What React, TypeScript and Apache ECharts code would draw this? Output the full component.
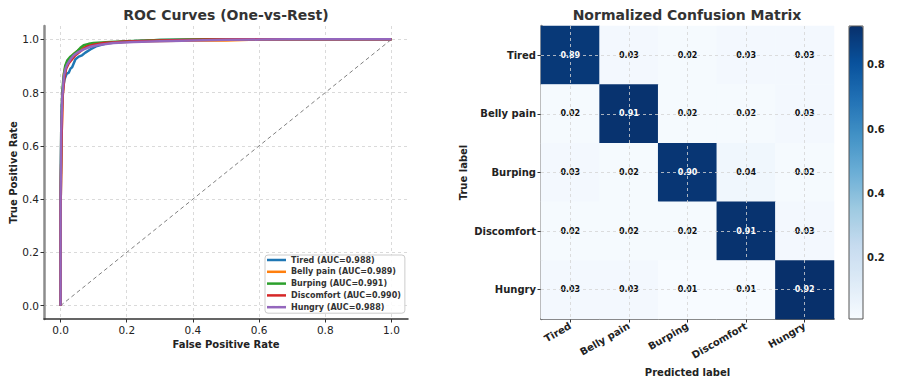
import React, { useEffect, useRef } from "react";
import * as echarts from "echarts";

// ROC curve points [fpr, tpr]
const rocTired: number[][] = [
  [0, 0], [0, 0.3], [0.002, 0.6], [0.004, 0.75], [0.008, 0.82], [0.012, 0.85], [0.018, 0.87],
  [0.025, 0.875], [0.03, 0.89], [0.035, 0.895], [0.04, 0.91], [0.045, 0.925], [0.055, 0.935],
  [0.065, 0.94], [0.075, 0.95], [0.09, 0.962], [0.11, 0.975], [0.14, 0.985], [0.2, 0.992],
  [0.3, 0.997], [0.45, 0.999], [0.6, 1.0], [1, 1],
];
const rocBelly: number[][] = [
  [0, 0], [0, 0.35], [0.003, 0.62], [0.006, 0.78], [0.01, 0.87], [0.015, 0.9], [0.02, 0.915],
  [0.03, 0.93], [0.04, 0.945], [0.055, 0.96], [0.075, 0.972], [0.1, 0.98], [0.15, 0.988],
  [0.25, 0.993], [0.35, 0.995], [0.5, 0.996], [0.57, 0.998], [0.7, 1.0], [1, 1],
];
const rocBurping: number[][] = [
  [0, 0], [0, 0.4], [0.002, 0.65], [0.005, 0.8], [0.009, 0.86], [0.014, 0.9], [0.02, 0.92],
  [0.03, 0.935], [0.04, 0.945], [0.05, 0.955], [0.06, 0.968], [0.07, 0.978], [0.085, 0.983],
  [0.1, 0.986], [0.15, 0.99], [0.2, 0.993], [0.3, 0.997], [0.38, 0.999], [0.45, 1.0], [1, 1],
];
const rocDiscomfort: number[][] = [
  [0, 0], [0, 0.35], [0.003, 0.62], [0.006, 0.78], [0.011, 0.85], [0.017, 0.89], [0.025, 0.91],
  [0.035, 0.925], [0.045, 0.94], [0.06, 0.955], [0.07, 0.965], [0.08, 0.973], [0.1, 0.98],
  [0.13, 0.986], [0.2, 0.992], [0.3, 0.996], [0.45, 0.999], [0.55, 1.0], [1, 1],
];
const rocHungry: number[][] = [
  [0, 0], [0, 0.4], [0.002, 0.65], [0.005, 0.78], [0.01, 0.86], [0.015, 0.89], [0.02, 0.905],
  [0.03, 0.925], [0.04, 0.94], [0.055, 0.953], [0.07, 0.962], [0.09, 0.972], [0.12, 0.98],
  [0.16, 0.986], [0.22, 0.99], [0.3, 0.993], [0.4, 0.996], [0.5, 0.998], [0.6, 0.999],
  [0.7, 1.0], [1, 1],
];
const chanceLine: number[][] = [[0, 0], [1, 1]];

const classNames = ["Tired", "Belly pain", "Burping", "Discomfort", "Hungry"];
const aucValues = ["0.988", "0.989", "0.991", "0.990", "0.988"];
const rocCurves = [rocTired, rocBelly, rocBurping, rocDiscomfort, rocHungry];
const rocColors = ["#1f77b4", "#ff7f0e", "#2ca02c", "#d62728", "#9467bd"];
const rocTicks = [0, 0.2, 0.4, 0.6, 0.8, 1.0];

// Confusion matrix rows = true label, cols = predicted label
const confusion: number[][] = [
  [0.89, 0.03, 0.02, 0.03, 0.03],
  [0.02, 0.91, 0.02, 0.02, 0.03],
  [0.03, 0.02, 0.9, 0.04, 0.02],
  [0.02, 0.02, 0.02, 0.91, 0.03],
  [0.03, 0.03, 0.01, 0.01, 0.92],
];
const colorbarTicks = [0.2, 0.4, 0.6, 0.8];
const blues = ["#f7fbff", "#deebf7", "#c6dbef", "#9ecae1", "#6baed6", "#4292c6", "#2171b5", "#08519c", "#08306b"];

const FONT = "DejaVu Sans";

export default function App() {
  const ref = useRef<HTMLDivElement>(null);
  useEffect(() => {
    document.body.style.margin = "0";
    if (!ref.current) return;
    const chart = echarts.init(ref.current, undefined, { renderer: "svg" });
    const legendNames = classNames.map((c, i) => `${c} (AUC=${aucValues[i]})`);
    const cmin = Math.min(...confusion.flat());
    const cmax = Math.max(...confusion.flat());
    const heatData: any[] = [];
    confusion.forEach((row, r) =>
      row.forEach((v, c) =>
        heatData.push({
          value: [c, r, v],
          label: { color: v > 0.5 ? "#ffffff" : "#111111", fontWeight: "bold", fontSize: 8 },
        })
      )
    );
    const gridLine = { color: "#d0d0d0", type: [3, 3], width: 0.8 };
    const tickStyle = { show: true, length: 3.5, lineStyle: { color: "#333", width: 1 } };
    const grayAxis = { show: true, onZero: false, lineStyle: { color: "#8c8c8c", width: 2.5 } };
    const darkAxis = { show: true, onZero: false, lineStyle: { color: "#333", width: 1.5 } };
    const option: any = {
      animation: false,
      textStyle: { fontFamily: FONT },
      graphic: [
        {
          type: "text", x: 226, y: 15,
          style: { text: "ROC Curves (One-vs-Rest)", textAlign: "center", textVerticalAlign: "middle", font: `bold 14px "${FONT}"`, fill: "#333" },
        },
        {
          type: "text", x: 687, y: 15,
          style: { text: "Normalized Confusion Matrix", textAlign: "center", textVerticalAlign: "middle", font: `bold 14px "${FONT}"`, fill: "#333" },
        },
        {
          type: "rect", z: 100,
          shape: { x: 849, y: 26, width: 14, height: 293 },
          style: { fill: "none", stroke: "#555", lineWidth: 1 },
        },
      ],
      grid: [
        { left: 44, top: 26, width: 364, height: 293 },
        { left: 541, top: 26, width: 293, height: 293 },
        { left: 849, top: 26, width: 14, height: 293 },
      ],
      xAxis: [
        {
          type: "value", gridIndex: 0, min: -0.05, max: 1.05,
          axisLine: darkAxis,
          axisTick: { ...tickStyle, customValues: rocTicks },
          axisLabel: { customValues: rocTicks, formatter: (v: number) => v.toFixed(1), fontSize: 10.5, color: "#222", margin: 5 },
          splitLine: { show: true, lineStyle: gridLine },
          name: "False Positive Rate", nameLocation: "middle", nameGap: 16,
          nameTextStyle: { fontWeight: "bold", fontSize: 10, color: "#222" },
        },
        {
          type: "category", gridIndex: 1, data: classNames,
          axisLine: darkAxis,
          axisTick: { ...tickStyle, alignWithLabel: true },
          axisLabel: { rotate: 30, fontWeight: "bold", fontSize: 10, color: "#222", margin: 6, interval: 0 },
          splitLine: { show: false },
          name: "Predicted label", nameLocation: "middle", nameGap: 48,
          nameTextStyle: { fontWeight: "bold", fontSize: 10, color: "#222" },
        },
        { type: "value", gridIndex: 2, show: false },
      ],
      yAxis: [
        {
          type: "value", gridIndex: 0, min: -0.05, max: 1.05,
          axisLine: grayAxis,
          axisTick: { ...tickStyle, customValues: rocTicks },
          axisLabel: { customValues: rocTicks, formatter: (v: number) => v.toFixed(1), fontSize: 10.5, color: "#222", margin: 5 },
          splitLine: { show: true, lineStyle: gridLine },
          name: "True Positive Rate", nameLocation: "middle", nameGap: 24,
          nameTextStyle: { fontWeight: "bold", fontSize: 10, color: "#222" },
        },
        {
          type: "category", gridIndex: 1, data: classNames, inverse: true,
          axisLine: grayAxis,
          axisTick: { ...tickStyle, alignWithLabel: true },
          axisLabel: { fontWeight: "bold", fontSize: 10, color: "#222", margin: 5, interval: 0 },
          splitLine: { show: false },
          name: "True label", nameLocation: "middle", nameGap: 73,
          nameTextStyle: { fontWeight: "bold", fontSize: 10, color: "#222" },
        },
        {
          type: "value", gridIndex: 2, position: "right", min: cmin, max: cmax,
          axisLine: { show: false },
          axisTick: { ...tickStyle, customValues: colorbarTicks },
          axisLabel: { customValues: colorbarTicks, formatter: (v: number) => v.toFixed(1), fontWeight: "bold", fontSize: 10, color: "#222", margin: 4 },
          splitLine: { show: false },
        },
      ],
      legend: {
        data: legendNames,
        orient: "vertical",
        left: 265, top: 255,
        icon: "rect", itemWidth: 19, itemHeight: 2.5, itemGap: 1.8,
        padding: [0, 4, 1, 2],
        backgroundColor: "rgba(255,255,255,0.85)",
        borderColor: "#cccccc", borderWidth: 1, borderRadius: 3,
        textStyle: { fontSize: 8, fontWeight: "bold", color: "#333", lineHeight: 10 },
        selectedMode: false,
      },
      visualMap: {
        type: "continuous", min: cmin, max: cmax, seriesIndex: 6,
        calculable: false, hoverLink: false,
        left: 849, top: 26, itemWidth: 14, itemHeight: 293, padding: 0,
        inRange: { color: blues },
        text: null,
      },
      series: [
        ...rocCurves.map((d, i) => ({
          type: "line", name: legendNames[i], xAxisIndex: 0, yAxisIndex: 0,
          data: d, showSymbol: false, symbol: "none",
          lineStyle: { color: rocColors[i], width: 2.5 }, itemStyle: { color: rocColors[i] },
          z: 3 + i,
        })),
        {
          type: "line", name: "chance", xAxisIndex: 0, yAxisIndex: 0, data: chanceLine,
          showSymbol: false, symbol: "none",
          lineStyle: { color: "#808080", width: 1, type: [4, 3] }, z: 2,
        },
        {
          type: "heatmap", xAxisIndex: 1, yAxisIndex: 1, data: heatData,
          label: { show: true, fontSize: 8, fontWeight: "bold", formatter: (p: any) => p.value[2].toFixed(2) },
          markLine: {
            silent: true, symbol: ["none", "none"], label: { show: false },
            lineStyle: { color: "#d4d4d4", type: [3, 3], width: 0.8 },
            data: [...classNames.map((c) => ({ xAxis: c })), ...classNames.map((c) => ({ yAxis: c }))],
          },
        },
      ],
    };
    chart.setOption(option);
    return () => chart.dispose();
  }, []);
  return <div ref={ref} style={{ width: 897, height: 385 }} />;
}
